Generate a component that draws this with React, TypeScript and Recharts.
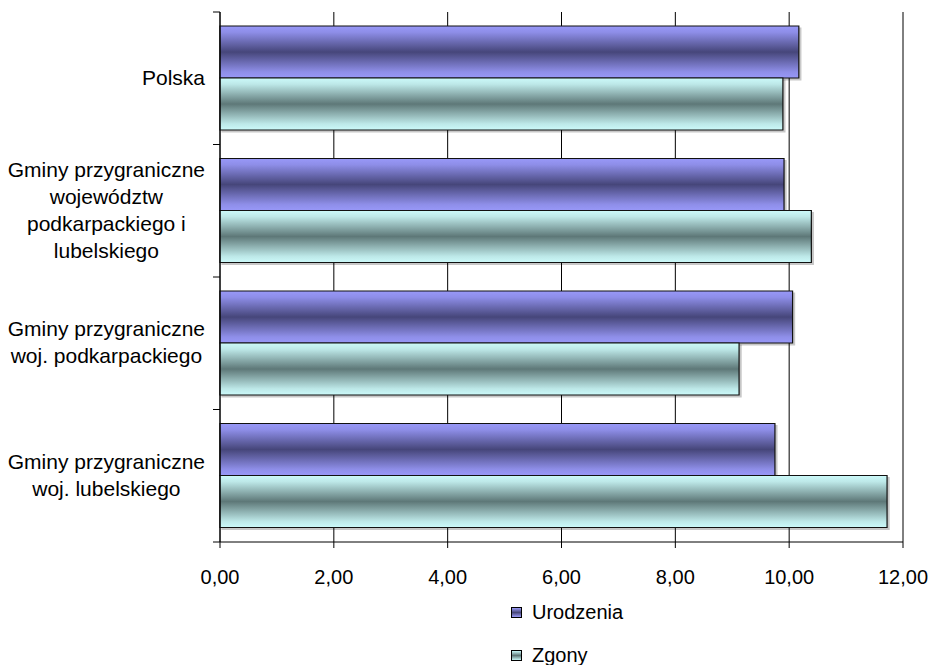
import { BarChart, Bar, XAxis, YAxis, CartesianGrid, Legend } from "recharts";

const categoryLines = [
  ["Polska"],
  ["Gminy przygraniczne", "województw", "podkarpackiego i", "lubelskiego"],
  ["Gminy przygraniczne", "woj. podkarpackiego"],
  ["Gminy przygraniczne", "woj. lubelskiego"],
];
const categories = categoryLines.map((lines) => lines.join(" "));
const urodzenia = [10.17, 9.91, 10.06, 9.75];
const zgony = [9.89, 10.39, 9.12, 11.72];
const xTicks = [0, 2, 4, 6, 8, 10, 12];
const seriesNames = ["Urodzenia", "Zgony"];

const data = categories.map((name, i) => ({
  name,
  urodzenia: urodzenia[i],
  zgony: zgony[i],
}));

const FONT = '"Liberation Sans", Arial, sans-serif';
const CAT_FONT_SIZE = 21;

let ctx: CanvasRenderingContext2D | null = null;
function textWidth(s: string) {
  if (!ctx) ctx = document.createElement("canvas").getContext("2d");
  if (!ctx) return s.length * 10;
  ctx.font = `${CAT_FONT_SIZE}px ${FONT}`;
  return ctx.measureText(s).width;
}

function CategoryTick(props: any) {
  const { x, y, payload, index } = props;
  const lines = categoryLines[payload.index ?? index] || [String(payload.value)];
  const axisX = x + 15;
  const right = x;
  const block = Math.max(...lines.map(textWidth));
  const cx = right - block / 2;
  const half = payload.offset ?? 66.25;
  const lh = 27;
  const start = y - ((lines.length - 1) * lh) / 2 - 1;
  return (
    <g>
      <line x1={axisX - 7} x2={axisX} y1={y - half} y2={y - half} stroke="#000" />
      {index === categories.length - 1 && (
        <line x1={axisX - 7} x2={axisX} y1={y + half} y2={y + half} stroke="#000" />
      )}
      <text textAnchor="middle" fontFamily={FONT} fontSize={CAT_FONT_SIZE} fill="#000">
        {lines.map((l, i) => (
          <tspan key={i} x={cx} y={start + i * lh} dy="0.36em">
            {l}
          </tspan>
        ))}
      </text>
    </g>
  );
}

const swatch = (id: string) =>
  id === "u"
    ? "linear-gradient(#9a9af8, #484878 50%, #9a9af8)"
    : "linear-gradient(#c8f8f8, #607878 50%, #c8f8f8)";

function LegendBox() {
  return (
    <div style={{ position: "relative", height: 67, fontFamily: FONT, fontSize: 20, color: "#000" }}>
      {seriesNames.map((n, i) => (
        <div
          key={n}
          style={{
            position: "absolute",
            left: 511,
            top: 2 + i * 43,
            height: 24,
            lineHeight: "24px",
            display: "flex",
            alignItems: "center",
            whiteSpace: "nowrap",
          }}
        >
          <span
            style={{
              display: "inline-block",
              width: 9,
              height: 9,
              border: "1px solid #000",
              background: swatch(i === 0 ? "u" : "z"),
              marginRight: 10,
            }}
          />
          {n}
        </div>
      ))}
    </div>
  );
}

export default function App() {
  return (
    <div
      style={{
        position: "fixed",
        left: 0,
        top: 0,
        width: 931,
        height: 665,
        overflow: "hidden",
        background: "#fff",
      }}
    >
      <style>{`.recharts-bar-rectangle path { filter: drop-shadow(2px 2px 0 rgba(0,0,0,0.22)); } .recharts-surface { overflow: visible; }`}</style>
      <BarChart
        width={931}
        height={665}
        data={data}
        layout="vertical"
        margin={{ top: 12, right: 28, left: 0, bottom: 0 }}
        barCategoryGap={14}
        barGap={0}
      >
        <defs>
          <linearGradient id="gU" x1="0" y1="0" x2="0" y2="1">
            <stop offset="0" stopColor="#9898f8" />
            <stop offset="0.12" stopColor="#8e8ee8" />
            <stop offset="0.5" stopColor="#46467a" />
            <stop offset="0.88" stopColor="#8e8ee8" />
            <stop offset="1" stopColor="#9898f8" />
          </linearGradient>
          <linearGradient id="gZ" x1="0" y1="0" x2="0" y2="1">
            <stop offset="0" stopColor="#ccfafa" />
            <stop offset="0.12" stopColor="#bde8e8" />
            <stop offset="0.5" stopColor="#5e7878" />
            <stop offset="0.88" stopColor="#bde8e8" />
            <stop offset="1" stopColor="#ccfafa" />
          </linearGradient>
        </defs>
        <CartesianGrid horizontal={false} stroke="#000" strokeOpacity={1} />
        <XAxis
          type="number"
          domain={[0, 12]}
          ticks={xTicks}
          interval={0}
          height={56}
          axisLine={{ stroke: "#000" }}
          tickLine={{ stroke: "#000" }}
          tickSize={6}
          tickMargin={22}
          tick={{ fontSize: 20, fill: "#000", fontFamily: FONT }}
          tickFormatter={(v: number) => v.toFixed(2).replace(".", ",")}
        />
        <YAxis
          type="category"
          dataKey="name"
          width={220}
          axisLine={{ stroke: "#000" }}
          tickLine={false}
          tickSize={7}
          tickMargin={8}
          interval={0}
          tick={<CategoryTick />}
        />
        <Legend
          layout="vertical"
          align="center"
          verticalAlign="bottom"
          wrapperStyle={{ left: 0, width: 931 }}
          content={() => <LegendBox />}
        />
        <Bar dataKey="urodzenia" name="Urodzenia" fill="url(#gU)" stroke="#111" strokeWidth={1.2} isAnimationActive={false} />
        <Bar dataKey="zgony" name="Zgony" fill="url(#gZ)" stroke="#111" strokeWidth={1.2} isAnimationActive={false} />
      </BarChart>
    </div>
  );
}
